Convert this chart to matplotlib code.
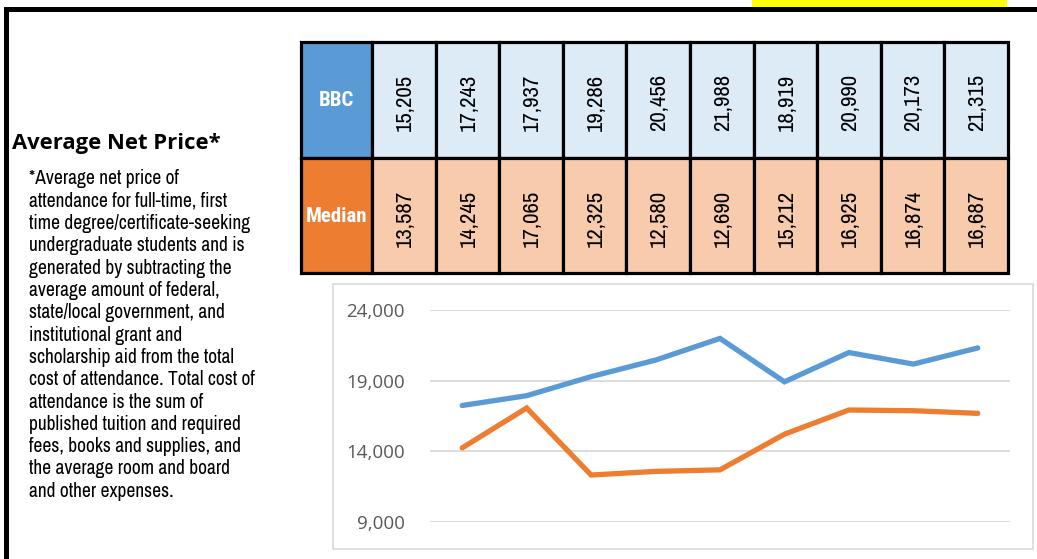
import matplotlib
matplotlib.use('Agg')
import matplotlib.pyplot as plt
from matplotlib.patches import Rectangle
from matplotlib.ticker import FuncFormatter

# table / chart data
series_names = ['BBC', 'Median']
bbc = [15205, 17243, 17937, 19286, 20456, 21988, 18919, 20990, 20173, 21315]
median = [13587, 14245, 17065, 12325, 12580, 12690, 15212, 16925, 16874, 16687]
yticks = [9000, 14000, 19000, 24000]

note_lines = [
    "*Average net price of",
    "attendance for full-time, first",
    "time degree/certificate-seeking",
    "undergraduate students and is",
    "generated by subtracting the",
    "average amount of federal,",
    "state/local government, and",
    "institutional grant and",
    "scholarship aid from the total",
    "cost of attendance. Total cost of",
    "attendance is the sum of",
    "published tuition and required",
    "fees, books and supplies, and",
    "the average room and board",
    "and other expenses.",
]

BLUE = '#5B9BD5'
ORANGE = '#ED7D31'
LIGHT_BLUE = '#DDEBF7'
LIGHT_ORANGE = '#F8CBAD'
NARROW = ['Archivo Narrow', 'Liberation Sans']
NARROW_BOLD = ['Roboto Condensed', 'Asap Condensed', 'Liberation Sans']

W, H = 1037, 559
fig = plt.figure(figsize=(W / 100, H / 100), dpi=100)

# full-figure overlay in pixel coordinates
bg = fig.add_axes([0, 0, 1, 1])
bg.set_xlim(0, W)
bg.set_ylim(H, 0)
bg.axis('off')

# frame bits
bg.add_patch(Rectangle((752, 0), 255, 7, facecolor='#FFFF00', edgecolor='none'))
bg.add_patch(Rectangle((4, 7), W, 4.5, facecolor='black', edgecolor='none'))
bg.add_patch(Rectangle((4, 7), 4.5, H, facecolor='black', edgecolor='none'))

# left text
bg.text(12, 144, 'Average Net Price*', fontsize=15.8, fontweight='bold',
        family='Open Sans', va='center', ha='left')
for i, line in enumerate(note_lines):
    bg.text(29, 179 + i * 22.3, line, fontsize=14, family=NARROW,
            va='center', ha='left')

# table
tx0, hdr_w, col_w = 301, 71, 63.6
ty0, row_h = 42, 115.5
rows = [bbc, median]
hdr_colors = [BLUE, ORANGE]
cell_colors = [LIGHT_BLUE, LIGHT_ORANGE]
for r, (name, vals) in enumerate(zip(series_names, rows)):
    y = ty0 + r * row_h
    bg.add_patch(Rectangle((tx0, y), hdr_w, row_h, facecolor=hdr_colors[r],
                           edgecolor='black', linewidth=2.3))
    bg.text(tx0 + hdr_w / 2, y + row_h / 2 + 1, name, color='white',
            fontsize=15, fontweight='bold', family=NARROW_BOLD,
            ha='center', va='center')
    for c, v in enumerate(vals):
        x = tx0 + hdr_w + c * col_w
        bg.add_patch(Rectangle((x, y), col_w, row_h, facecolor=cell_colors[r],
                               edgecolor='black', linewidth=2.3))
        bg.text(x + col_w / 2 + 1, y + row_h / 2 + 3, f'{v:,}', rotation=90,
                fontsize=16.5, family=NARROW, ha='center', va='center')

# chart box
bg.add_patch(Rectangle((333, 284), 700, 265, facecolor='white',
                       edgecolor='#D9D9D9', linewidth=1.2))

# line chart (plots years 2..10 of the table)
px_l, px_r, px_t, px_b = 430, 1010, 310, 522
ax = fig.add_axes([px_l / W, 1 - px_b / H, (px_r - px_l) / W, (px_b - px_t) / H])
ax.patch.set_alpha(0)
xs = list(range(len(bbc) - 1))
ax.plot(xs, bbc[1:], color=BLUE, linewidth=3.8, solid_capstyle='round',
        solid_joinstyle='miter', clip_on=False, zorder=3)
ax.plot(xs, median[1:], color=ORANGE, linewidth=3.8, solid_capstyle='round',
        solid_joinstyle='miter', clip_on=False, zorder=3)
ax.set_xlim(-0.5, len(xs) - 0.5)
ax.set_ylim(yticks[0], yticks[-1])
ax.set_yticks(yticks)
ax.yaxis.set_major_formatter(FuncFormatter(lambda v, p: f'{v:,.0f}'))
ax.set_xticks([])
ax.grid(axis='y', color='#D9D9D9', linewidth=1.3)
ax.set_axisbelow(True)
for s in ax.spines.values():
    s.set_visible(False)
ax.tick_params(axis='y', length=0, pad=18, labelsize=13.5, labelcolor='#595959')
for lbl in ax.get_yticklabels():
    lbl.set_family('Open Sans')

fig.savefig('out.png', dpi=100)
